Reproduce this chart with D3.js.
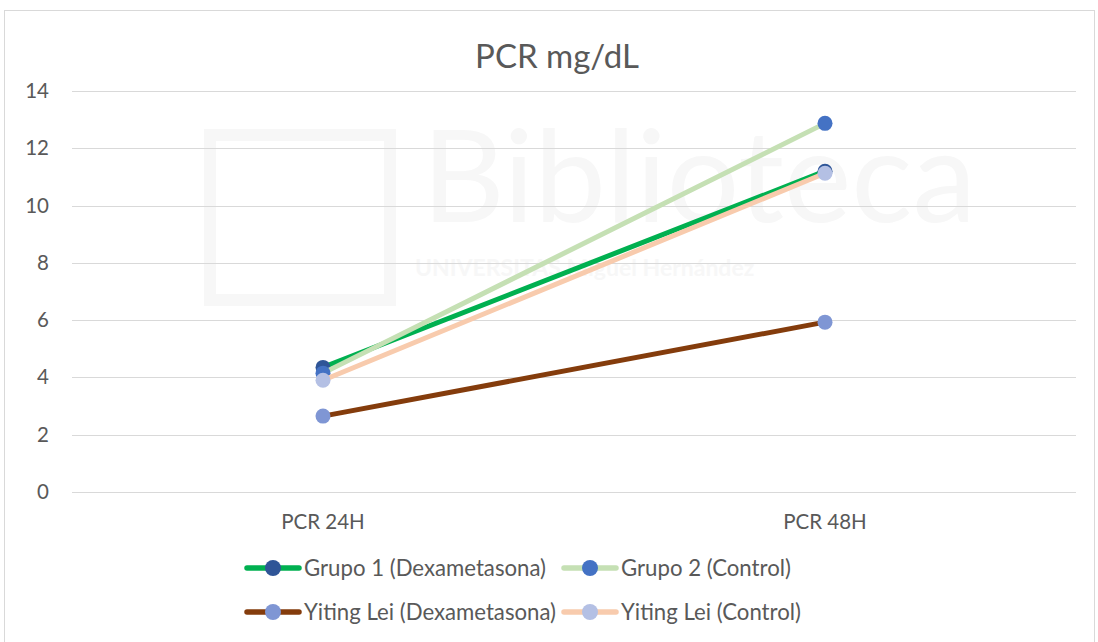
<!DOCTYPE html>
<html>
<head>
<meta charset="utf-8">
<title>PCR mg/dL</title>
<style>
  body { margin: 0; background: #fff; }
  text { font-family: Lato, "Open Sans", sans-serif; }
  .y-axis path, .x-axis path, .x-axis line, .y-axis line { stroke: none; }
  .grid line { stroke: #d9d9d9; stroke-width: 1px; }
</style>
</head>
<body>
<script src="https://d3js.org/d3.v7.min.js"></script>
<script>
// data
var categories = ["PCR 24H", "PCR 48H"];
var seriesNames = ["Grupo 1 (Dexametasona)", "Grupo 2 (Control)", "Yiting Lei (Dexametasona)", "Yiting Lei (Control)"];
var grupo1 = [4.35, 11.2];
var grupo2 = [4.15, 12.87];
var yitingDexa = [2.65, 5.93];
var yitingControl = [3.9, 11.13];
var yTicks = [0, 2, 4, 6, 8, 10, 12, 14];

var lineColors = ["#00b050", "#c5e0b4", "#843c0c", "#f8cbad"];
var markerColors = ["#2f5597", "#4472c4", "#7f96d4", "#b4c0e4"];

var series = [grupo1, grupo2, yitingDexa, yitingControl].map(function(v, i) {
    return { name: seriesNames[i], values: v, line: lineColors[i], marker: markerColors[i] };
});

var W = 1098, H = 642;
var svg = d3.select("body").append("svg").attr("width", W).attr("height", H);

// chart frame
svg.append("rect").attr("x", 4.5).attr("y", 10.5).attr("width", W - 8).attr("height", H)
    .attr("fill", "#fff").attr("stroke", "#d9d9d9");

// faint watermark
var wm = svg.append("g").attr("fill", "#f7f7f7");
wm.append("text").attr("x", 422).attr("y", 222).attr("font-size", 128).text("Biblioteca");
wm.append("text").attr("x", 415).attr("y", 276).attr("font-size", 23).attr("font-family", "DejaVu Serif")
    .attr("font-weight", "bold").text("UNIVERSITAS Miguel Hernández");
wm.append("rect").attr("x", 210).attr("y", 135).attr("width", 180).attr("height", 165)
    .attr("fill", "none").attr("stroke", "#f7f7f7").attr("stroke-width", 12);

var mLeft = 72, mRight = 1076, mTop = 91, mBottom = 492;

var x = d3.scaleBand().domain(categories).range([mLeft, mRight]);
var y = d3.scaleLinear().domain([0, 14]).range([mBottom, mTop]);

// grid
svg.append("g").attr("class", "grid")
    .selectAll("line").data(yTicks).enter().append("line")
    .attr("x1", mLeft).attr("x2", mRight)
    .attr("y1", function(d) { return Math.round(y(d)) + 0.5; })
    .attr("y2", function(d) { return Math.round(y(d)) + 0.5; });

// axes
var yAxis = svg.append("g").attr("class", "y-axis")
    .attr("transform", "translate(" + (mLeft - 15) + ",0)")
    .call(d3.axisLeft(y).tickValues(yTicks).tickSize(0).tickPadding(8));
yAxis.selectAll("text").attr("font-size", 20.5).attr("fill", "#595959")
    .attr("font-family", "Lato, sans-serif");

var xAxis = svg.append("g").attr("class", "x-axis")
    .attr("transform", "translate(0," + mBottom + ")")
    .call(d3.axisBottom(x).tickSize(0).tickPadding(22));
xAxis.selectAll("text").attr("font-size", 20.5).attr("fill", "#595959")
    .attr("font-family", "Lato, sans-serif");

// title
svg.append("text").attr("x", 557).attr("y", 68).attr("text-anchor", "middle")
    .attr("font-size", 33).attr("fill", "#595959").text("PCR mg/dL");

// lines & markers
var line = d3.line()
    .x(function(d, i) { return x(categories[i]) + x.bandwidth() / 2; })
    .y(function(d) { return y(d); });

var g = svg.selectAll(".series").data(series).enter().append("g").attr("class", "series");
g.append("path")
    .attr("d", function(d) { return line(d.values); })
    .attr("fill", "none")
    .attr("stroke", function(d) { return d.line; })
    .attr("stroke-width", 5)
    .attr("stroke-linecap", "round");
g.selectAll("circle").data(function(d) { return d.values.map(function(v, i) { return { v: v, i: i, c: d.marker }; }); })
    .enter().append("circle")
    .attr("cx", function(d) { return x(categories[d.i]) + x.bandwidth() / 2; })
    .attr("cy", function(d) { return y(d.v); })
    .attr("r", 7.5)
    .attr("fill", function(d) { return d.c; });

// legend
var legendPos = [[245, 568], [562, 568], [245, 612], [562, 612]];
var lg = svg.selectAll(".legend").data(series).enter().append("g").attr("class", "legend")
    .attr("transform", function(d, i) { return "translate(" + legendPos[i][0] + "," + legendPos[i][1] + ")"; });
lg.append("line").attr("x1", 2).attr("x2", 54).attr("y1", 0).attr("y2", 0)
    .attr("stroke", function(d) { return d.line; }).attr("stroke-width", 5.5).attr("stroke-linecap", "round");
lg.append("circle").attr("cx", 28).attr("cy", 0).attr("r", 8).attr("fill", function(d) { return d.marker; });
lg.append("text").attr("x", 59).attr("y", 0).attr("dy", "0.35em")
    .attr("font-size", 22.2).attr("fill", "#595959").text(function(d) { return d.name; });
</script>
</body>
</html>
